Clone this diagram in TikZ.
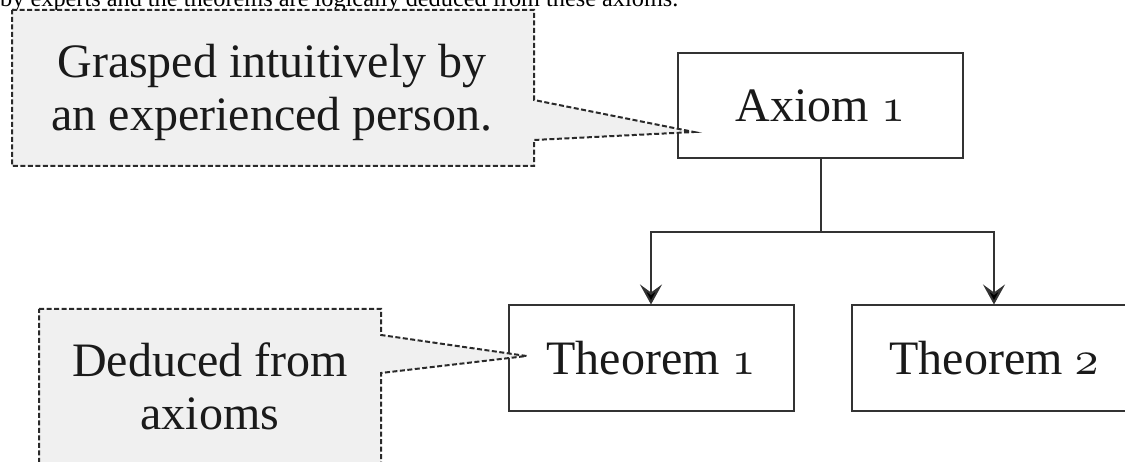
\documentclass[tikz,border=0pt]{standalone}
\usepackage{fontspec}
\usepackage{graphicx}
\setmainfont{Liberation Serif}
\usetikzlibrary{arrows.meta,calc}
\newcommand\osnum[1]{\scalebox{4.8}{\fontsize{10}{12}\usefont{OML}{cmm}{m}{it}#1}}
\definecolor{linegray}{HTML}{333333}
\definecolor{dashgray}{HTML}{2A2A2A}
\definecolor{calloutfill}{HTML}{F0F0F0}
\definecolor{textblack}{HTML}{1A1A1A}
\begin{document}
\begin{tikzpicture}[x=1pt,y=-1pt,
  bigtext/.style={font=\fontsize{48}{53}\selectfont, text=textblack},
  stepbox/.style={draw=linegray, line width=2pt, fill=white, minimum width=285pt,
    minimum height=105pt, inner sep=0pt, bigtext},
  callout/.style={draw=dashgray, line width=2pt, dash pattern=on 5pt off 2.5pt,
    fill=calloutfill, line join=miter},
  conn/.style={draw=linegray, line width=2pt},
  arr/.style={conn, -{Stealth[length=20pt, width=22pt, inset=8pt, fill=black]}}
]
\useasboundingbox (0,0) rectangle (1125,462);
\clip (0,0) rectangle (1125,462);
\fill[white] (0,0) rectangle (1125,462);

% clipped line of page text at the top
\node[anchor=base west, inner sep=0pt, font=\fontsize{24.3}{28}\selectfont, text=black]
  (pagetext) at (0,6.5) {by experts and the theorems are logically deduced from these axioms.};

% boxes
\node[stepbox] (axiom) at (820.5,105.5) {Axiom \osnum{1}};
\node[stepbox] (thm1) at (651,358) {Theorem \osnum{1}};
\node[stepbox] (thm2) at (994,358) {Theorem \osnum{2}};

% connectors
\coordinate (split) at (axiom.south |- 0,232);
\draw[conn] (axiom.south) -- (split);
\draw[arr] (split) -| (thm1.north);
\draw[arr] (split) -| (thm2.north);

% callout 1
\coordinate (tip1) at ($(axiom.west)+(17,26.5)$);
\draw[callout] (12,10) -- (534,10) -- (534,100) -- (tip1) -- (534,140)
  -- (534,166) -- (12,166) -- cycle;
\node[bigtext, align=center, inner sep=0pt] (t1) at (272,92)
  {Grasped intuitively by\\an experienced person.};

% callout 2
\coordinate (tip2) at ($(thm1.west)+(19,-2)$);
\draw[callout] (39,309) -- (381,309) -- (381,335) -- (tip2) -- (381,373)
  -- (381,490) -- (39,490) -- cycle;
\node[bigtext, align=center, inner sep=0pt] (t2) at (210,386.5)
  {Deduced from\\axioms};
\end{tikzpicture}
\end{document}
